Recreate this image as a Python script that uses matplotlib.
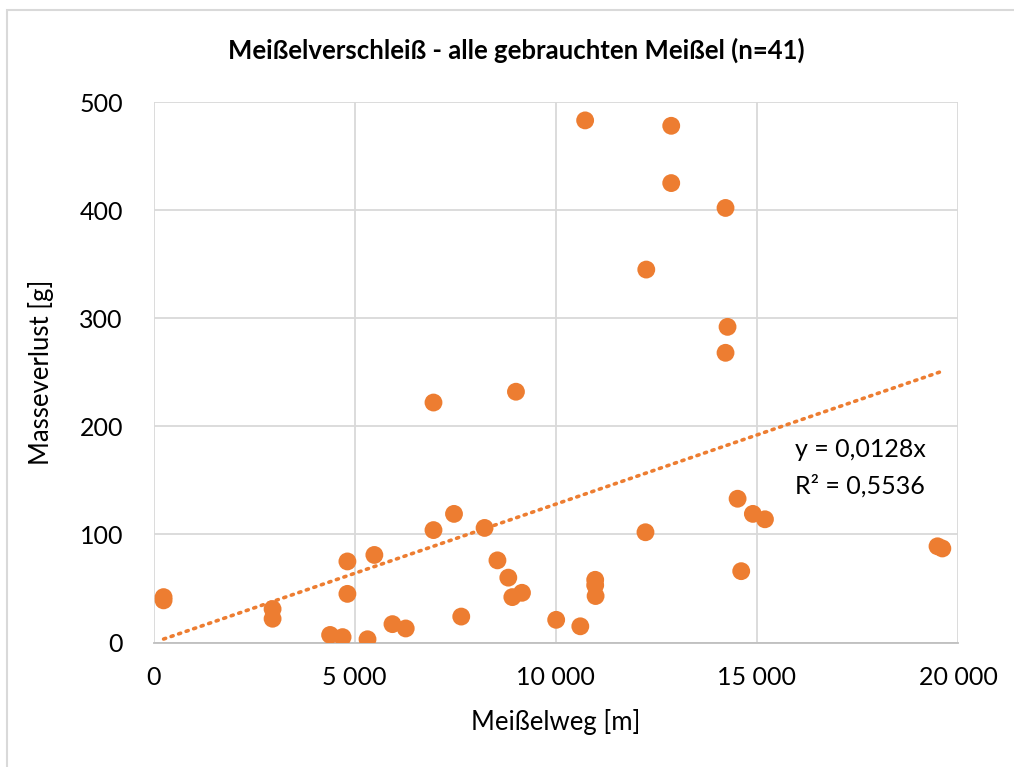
import matplotlib
matplotlib.use("Agg")
import matplotlib.pyplot as plt
import numpy as np

plt.rcParams['font.family'] = ['Lato', 'DejaVu Sans']

# Meißelweg [m] und Masseverlust [g] (n=41)
meisselweg = [250, 250, 2960, 2960, 4820, 4820, 5490, 6960, 7470, 8230,
              8550, 8820, 8920, 9160, 7650, 4390, 4700, 5320, 5940, 6270,
              10010, 14520, 14900, 15200, 12230, 14610, 10980, 10980, 10990,
              10610, 12870, 12870, 14220, 12250, 14270, 14220, 6960, 9010,
              10730, 19490, 19610]
masseverlust = [42, 39, 31, 22, 75, 45, 81, 104, 119, 106,
                76, 60, 42, 46, 24, 7, 5, 3, 17, 13,
                21, 133, 119, 114, 102, 66, 58, 53, 43,
                15, 478, 425, 402, 345, 292, 268, 222, 232,
                483, 89, 87]

steigung = 0.0128
bestimmtheit = 0.5536

orange = '#ED7D31'
grid_grey = '#D9D9D9'

fig = plt.figure(figsize=(10.14, 7.67), dpi=100)
ax = fig.add_axes([0.1514, 0.1623, 0.7934, 0.7047])

# Trendlinie durch den Ursprung
x_trend = np.array([min(meisselweg), max(meisselweg)])
ax.plot(x_trend, steigung * x_trend, color=orange, linestyle=(0, (0.6, 1.6)),
        linewidth=2.6, dash_capstyle='round', zorder=2)

ax.scatter(meisselweg, masseverlust, s=165, color=orange, edgecolors='none', zorder=3)

ax.set_xlim(0, 20000)
ax.set_ylim(0, 500)
ax.set_xticks([0, 5000, 10000, 15000, 20000])
ax.set_xticklabels(['0', '5 000', '10 000', '15 000', '20 000'])
ax.set_yticks([0, 100, 200, 300, 400, 500])
ax.grid(True, color=grid_grey, linewidth=1.3, zorder=0)
ax.set_axisbelow(True)
for side in ['top', 'right', 'left']:
    ax.spines[side].set_visible(False)
ax.spines['bottom'].set_color('#BFBFBF')
ax.spines['bottom'].set_linewidth(1.3)
ax.tick_params(axis='both', length=0, labelsize=18, colors='#000000')
ax.tick_params(axis='y', pad=22)
ax.tick_params(axis='x', pad=17)

ax.set_xlabel('Meißelweg [m]', fontsize=18.5, labelpad=14)
ax.set_ylabel('Masseverlust [g]', fontsize=18.5, labelpad=18)
fig.text(0.509, 0.934, 'Meißelverschleiß - alle gebrauchten Meißel (n=41)',
         ha='center', va='center', fontsize=18.5, fontweight='bold')

ax.text(15950, 179, 'y = 0,0128x', fontsize=18, va='center', ha='left')
ax.text(15950, 145, 'R² = 0,5536', fontsize=18, va='center', ha='left')

# Rahmen des Diagrammbereichs
fig.patches.append(plt.Rectangle((0.007, -0.05), 1.2, 1.037, transform=fig.transFigure,
                                 fill=False, edgecolor='#D9D9D9', linewidth=1.5))

fig.savefig('out.png', dpi=100)
